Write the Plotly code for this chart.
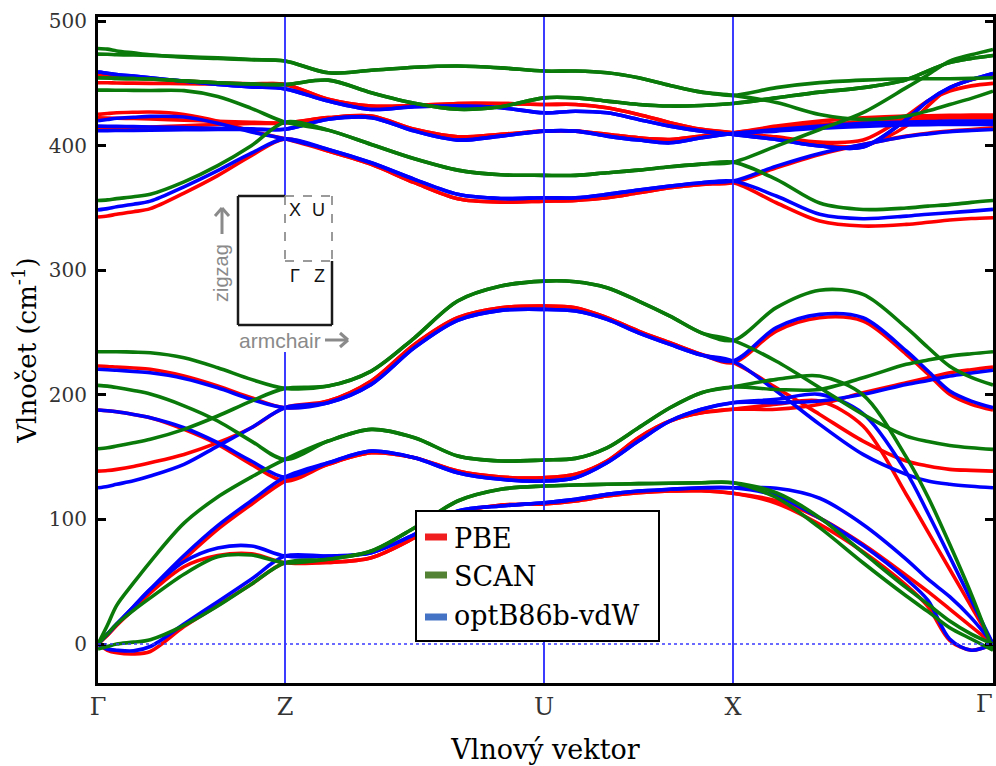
import plotly.graph_objects as go

# ---------------------------------------------------------------------------
# Phonon dispersion of black phosphorene along Γ–Z–U–X–Γ
# ---------------------------------------------------------------------------

# sampled k-points along the path (path-length units)
k_path = [0.000, 0.094, 0.187, 0.355, 0.523, 0.860, 1.197, 1.533, 1.870,
          2.302, 2.733, 3.165, 3.597, 4.028, 4.460,
          4.775, 5.090, 5.405, 5.720, 6.035, 6.350,
          6.783, 7.217, 7.650, 8.083, 8.300, 8.517, 8.733, 8.950]

# high-symmetry points
sym_k = [0.0, 1.87, 4.46, 6.35, 8.95]
sym_labels = ["Γ", "Z", "U", "X", "Γ"]

# frequency ticks (cm^-1)
freq_ticks = [0, 100, 200, 300, 400, 500]

# PBE phonon branches (cm^-1), one list per band
pbe_bands = [
    [223.1, 222.8, 222.3, 221.5, 220.5, 215.1, 207.1, 197.7, 189.7,
     195.0, 211.1, 240.5, 261.9, 269.9, 271.3,
     269.9, 261.9, 251.2, 241.8, 232.5, 225.8,
     251.2, 261.9, 259.2, 232.5, 216.7, 200.4, 192.4, 187.8],
    [138.8, 139.3, 140.2, 142.5, 145.5, 152.2, 161.6, 173.6, 189.7,
     195.0, 211.1, 240.5, 261.9, 269.9, 271.3,
     269.9, 261.9, 251.2, 241.8, 232.5, 225.8,
     205.7, 184.3, 162.9, 146.9, 142.9, 140.2, 139.4, 138.8],
    [0.0, 7.0, 15.0, 28.0, 42.0, 68.0, 92.0, 112.0, 130.8,
     144.2, 153.5, 149.5, 138.8, 134.0, 133.5,
     136.2, 146.9, 165.6, 179.0, 185.6, 188.4,
     188.4, 192.4, 201.7, 209.7, 213.7, 217.7, 220.2, 222.3],
    [187.8, 187.2, 186.4, 184.2, 181.6, 172.3, 160.3, 144.2, 130.8,
     144.2, 153.5, 149.5, 138.8, 134.0, 133.5,
     136.2, 146.9, 165.6, 179.0, 185.6, 188.4,
     192.4, 195.0, 175.0, 120.0, 90.0, 60.0, 30.0, 0.0],
    [0.0, 7.0, 15.0, 28.0, 41.0, 62.0, 71.0, 72.5, 65.2,
     65.5, 69.3, 85.3, 105.4, 111.5, 112.5,
     114.8, 118.8, 121.4, 122.8, 123.0, 121.0,
     115.0, 101.0, 80.0, 55.0, 42.0, 28.0, 14.0, 0.0],
    [0.0, -5.0, -7.0, -8.0, -6.0, 14.0, 31.0, 48.0, 65.2,
     65.5, 69.3, 85.3, 105.4, 111.5, 112.5,
     114.8, 118.8, 121.4, 122.8, 123.0, 121.0,
     113.0, 96.0, 74.0, 47.0, 30.0, 3.0, -5.0, 0.0],
    [457.2, 456.5, 455.9, 454.8, 453.7, 451.8, 450.5, 449.7, 449.2,
     437.2, 431.8, 432.3, 433.9, 433.9, 433.1,
     433.1, 430.5, 425.1, 418.5, 413.1, 410.4,
     406.3, 401.0, 399.7, 415.7, 432.0, 446.5, 453.0, 456.4],
    [450.5, 450.5, 450.3, 450.2, 450.0, 449.8, 449.5, 449.3, 449.2,
     437.2, 431.8, 432.3, 433.9, 433.9, 433.1,
     433.1, 430.5, 425.1, 418.5, 413.1, 410.4,
     407.1, 402.9, 404.5, 423.8, 436.0, 443.8, 448.0, 450.0],
    [422.3, 422.2, 422.0, 421.8, 421.5, 420.5, 419.5, 418.8, 418.3,
     422.5, 423.8, 413.1, 407.2, 409.1, 411.7,
     411.7, 409.1, 406.3, 405.0, 407.7, 410.4,
     415.7, 419.7, 422.3, 423.8, 424.0, 424.3, 424.5, 424.6],
    [414.3, 414.4, 414.5, 414.8, 415.0, 416.0, 417.0, 417.8, 418.3,
     422.5, 423.8, 413.1, 407.2, 409.1, 411.7,
     411.7, 409.1, 406.3, 405.0, 407.7, 410.4,
     414.4, 417.1, 418.9, 421.0, 421.8, 422.3, 422.3, 422.3],
    [425.1, 425.8, 426.4, 426.8, 427.0, 425.1, 419.7, 411.7, 405.5,
     395.7, 385.0, 370.3, 357.4, 354.7, 355.5,
     356.1, 358.2, 362.2, 366.2, 368.9, 370.3,
     382.3, 393.0, 401.0, 407.7, 410.0, 411.7, 413.0, 414.4],
    [342.7, 343.5, 345.0, 347.0, 349.5, 362.0, 376.0, 392.0, 405.5,
     395.7, 385.0, 370.3, 357.4, 354.7, 355.5,
     356.1, 358.2, 362.2, 366.2, 368.9, 370.3,
     354.2, 339.5, 335.5, 336.8, 338.5, 340.3, 341.5, 342.2],
]

# optB86b-vdW phonon branches (cm^-1)
optb_bands = [
    [220.5, 220.1, 219.7, 218.8, 217.7, 213.2, 205.7, 196.4, 189.7,
     193.7, 208.4, 237.9, 259.8, 267.8, 268.6,
     267.3, 260.6, 249.8, 240.5, 231.9, 227.1,
     253.9, 264.6, 261.9, 235.2, 219.1, 203.1, 195.0, 189.7],
    [125.4, 126.5, 128.2, 131.0, 134.8, 144.2, 158.9, 173.6, 189.7,
     193.7, 208.4, 237.9, 259.8, 267.8, 268.6,
     267.3, 260.6, 249.8, 240.5, 231.9, 227.1,
     203.0, 176.3, 152.2, 136.2, 130.8, 128.2, 126.6, 125.4],
    [0.0, 8.0, 16.0, 30.0, 44.0, 71.0, 95.0, 115.0, 134.0,
     145.5, 154.9, 149.5, 137.5, 132.2, 130.8,
     133.5, 145.5, 162.9, 179.0, 188.4, 193.7,
     193.7, 195.0, 200.4, 208.4, 211.6, 215.1, 217.5, 219.7],
    [187.8, 187.2, 186.4, 184.2, 181.6, 173.6, 161.6, 146.9, 134.0,
     145.5, 154.9, 149.5, 137.5, 132.2, 130.8,
     133.5, 145.5, 162.9, 179.0, 188.4, 193.7,
     196.4, 200.4, 185.0, 138.0, 105.0, 70.0, 35.0, 0.0],
    [0.0, 8.0, 16.0, 30.0, 44.0, 66.0, 77.0, 78.7, 70.6,
     70.6, 73.3, 88.0, 106.7, 110.8, 113.4,
     116.1, 120.1, 122.8, 124.2, 125.4, 125.4,
     125.0, 117.0, 96.0, 68.0, 52.0, 38.0, 21.0, 0.0],
    [0.0, -4.0, -5.0, -5.5, -2.0, 16.0, 34.0, 52.0, 70.6,
     70.6, 73.3, 88.0, 106.7, 110.8, 113.4,
     116.1, 120.1, 122.8, 124.2, 125.4, 125.4,
     119.0, 101.0, 79.0, 52.0, 35.0, 4.0, -5.0, 0.0],
    [459.1, 458.2, 457.2, 455.9, 454.5, 451.8, 449.2, 447.2, 445.6,
     435.8, 429.1, 431.3, 431.8, 430.5, 426.4,
     427.7, 426.4, 421.1, 415.7, 411.7, 409.0,
     405.0, 399.7, 398.9, 421.0, 436.0, 446.6, 453.0, 458.0],
    [459.1, 458.2, 457.2, 455.9, 454.5, 451.8, 449.2, 447.2, 445.6,
     435.8, 429.1, 431.3, 431.8, 430.5, 426.4,
     427.7, 426.4, 421.1, 415.7, 411.7, 409.0,
     405.0, 399.7, 398.9, 421.0, 436.0, 446.6, 453.0, 458.0],
    [415.7, 415.6, 415.5, 415.3, 415.0, 414.5, 414.0, 413.5, 413.2,
     421.2, 422.5, 411.7, 404.5, 407.7, 411.7,
     411.7, 407.7, 404.5, 402.3, 406.3, 409.8,
     413.0, 415.7, 417.9, 418.9, 419.3, 419.7, 419.7, 419.7],
    [412.0, 412.1, 412.2, 412.3, 412.5, 412.8, 413.0, 413.1, 413.2,
     421.2, 422.5, 411.7, 404.5, 407.7, 411.7,
     411.7, 407.7, 404.5, 402.3, 406.3, 409.8,
     411.7, 414.0, 415.5, 416.6, 416.9, 417.1, 417.1, 417.1],
    [420.0, 421.0, 422.0, 422.8, 423.5, 423.0, 418.0, 411.0, 405.5,
     397.0, 386.3, 373.0, 361.0, 357.6, 358.2,
     358.2, 360.9, 364.4, 367.6, 370.3, 371.6,
     383.6, 393.8, 401.0, 407.4, 409.5, 411.2, 412.2, 413.0],
    [348.5, 349.5, 351.0, 353.0, 355.5, 367.0, 380.0, 394.0, 405.5,
     397.0, 386.3, 373.0, 361.0, 357.6, 358.2,
     358.2, 360.9, 364.4, 367.6, 370.3, 371.6,
     359.6, 344.9, 341.4, 343.5, 345.0, 346.2, 347.5, 348.9],
]

# SCAN phonon branches (cm^-1)
scan_bands = [
    [234.6, 234.6, 234.6, 234.3, 233.8, 229.8, 221.8, 212.4, 205.2,
     207.1, 219.1, 245.8, 275.3, 287.3, 291.3,
     290.8, 286.0, 275.3, 263.2, 249.8, 243.7,
     270.0, 284.0, 280.7, 253.9, 238.0, 223.0, 214.0, 207.9],
    [156.7, 157.5, 158.9, 161.5, 164.3, 172.3, 183.0, 195.0, 205.2,
     207.1, 219.1, 245.8, 275.3, 287.3, 291.3,
     290.8, 286.0, 275.3, 263.2, 249.8, 243.7,
     227.0, 205.7, 184.3, 166.9, 162.5, 159.4, 157.5, 156.2],
    [0.0, 15.0, 31.0, 49.0, 66.0, 97.0, 118.0, 134.0, 148.2,
     162.9, 172.3, 165.6, 150.9, 146.9, 147.7,
     149.0, 157.5, 173.6, 189.6, 201.7, 206.3,
     204.3, 204.3, 213.7, 224.5, 228.0, 231.1, 233.0, 234.6],
    [207.6, 207.0, 205.9, 203.5, 200.6, 191.2, 179.0, 162.9, 148.2,
     162.9, 172.3, 165.6, 150.9, 146.9, 147.7,
     149.0, 157.5, 173.6, 189.6, 201.7, 206.3,
     212.4, 215.1, 200.0, 150.0, 118.0, 80.0, 40.0, -5.0],
    [0.0, 8.0, 16.0, 27.0, 37.0, 56.0, 70.0, 71.4, 65.2,
     68.0, 74.6, 93.3, 114.8, 124.2, 126.8,
     127.6, 128.2, 128.7, 129.0, 129.5, 129.5,
     121.4, 101.4, 73.3, 45.2, 32.0, 18.5, 8.0, 0.0],
    [-4.0, -2.0, 0.0, 1.5, 3.5, 15.0, 30.5, 48.0, 65.2,
     68.0, 74.6, 93.3, 114.8, 124.2, 126.8,
     127.6, 128.2, 128.7, 129.0, 129.5, 129.5,
     117.6, 93.4, 65.2, 38.5, 26.0, 13.1, 4.0, -5.0],
    [478.0, 477.5, 476.0, 474.5, 473.0, 471.0, 470.0, 469.0, 468.0,
     458.5, 460.5, 463.0, 464.0, 462.5, 459.9,
     459.9, 458.5, 454.5, 448.4, 443.0, 440.4,
     446.6, 450.6, 452.6, 453.7, 453.7, 453.7, 454.0, 454.5],
    [473.5, 473.4, 473.0, 472.8, 472.5, 471.5, 470.5, 469.2, 468.0,
     458.5, 460.5, 463.0, 464.0, 462.5, 459.9,
     459.9, 458.5, 454.5, 448.4, 443.0, 440.4,
     434.6, 425.1, 421.1, 423.8, 428.0, 433.1, 438.0, 443.8],
    [454.5, 454.3, 454.0, 453.8, 453.5, 452.0, 450.5, 449.5, 449.1,
     452.6, 442.5, 434.0, 429.2, 431.3, 438.4,
     438.4, 435.8, 433.1, 431.8, 432.3, 433.9,
     438.4, 443.0, 446.6, 453.0, 460.0, 466.7, 470.0, 472.4],
    [454.5, 454.3, 454.0, 453.8, 453.5, 452.0, 450.5, 449.5, 449.1,
     452.6, 442.5, 434.0, 429.2, 431.3, 438.4,
     438.4, 435.8, 433.1, 431.8, 432.3, 433.9,
     438.4, 443.0, 446.6, 453.0, 460.0, 466.7, 470.0, 472.4],
    [444.6, 444.6, 444.5, 444.4, 444.3, 444.2, 439.5, 430.0, 418.9,
     412.5, 401.0, 389.5, 380.4, 376.7, 376.2,
     376.2, 378.3, 380.4, 383.1, 385.2, 386.8,
     399.7, 413.0, 426.5, 446.6, 457.0, 467.9, 473.0, 477.3],
    [356.0, 356.5, 357.5, 359.0, 361.0, 371.0, 384.0, 400.0, 418.9,
     412.5, 401.0, 389.5, 380.4, 376.7, 376.2,
     376.2, 378.3, 380.4, 383.1, 385.2, 386.8,
     373.0, 354.0, 348.8, 350.0, 351.5, 352.7, 354.5, 356.0],
]

# ---------------------------------------------------------------------------
# figure geometry
W, H = 996, 766
L, R, T, B = 98, 3, 17, 83
PW, PH = W - L - R, H - T - B


def fx(x):
    """pixel column -> paper x"""
    return (x - L) / PW


def fy(y):
    """pixel row -> paper y"""
    return (H - B - y) / PH


SERIF = "DejaVu Serif"
SANS = "Liberation Sans"
GREY = "#8a8a8a"

series = [
    ("PBE", pbe_bands, "#ff0000"),
    ("optB86b-vdW", optb_bands, "#0000ff"),
    ("SCAN", scan_bands, "#0a7a0a"),
]

fig = go.Figure()
for name, bands, color in series:
    for band in bands:
        fig.add_trace(go.Scatter(
            x=k_path, y=band, mode="lines", name=name,
            line=dict(color=color, width=3.6, shape="spline", smoothing=0.9),
            showlegend=False, hoverinfo="skip"))


def seg(p, q, color, width, dash=None):
    ln = dict(color=color, width=width)
    if dash:
        ln["dash"] = dash
    return dict(type="line", xref="paper", yref="paper",
                x0=fx(p[0]), y0=fy(p[1]), x1=fx(q[0]), y1=fy(q[1]),
                line=ln, layer="above")


shapes = []
# high-symmetry verticals
for k in sym_k[1:-1]:
    shapes.append(dict(type="line", xref="x", yref="paper", x0=k, x1=k, y0=0, y1=1,
                       line=dict(color="#2626ff", width=1.8), layer="above"))
# zero-frequency guide
shapes.append(dict(type="line", xref="paper", yref="y", x0=0, x1=1, y0=0, y1=0,
                   line=dict(color="#3a3aff", width=1.5, dash="dot"), layer="above"))

# Brillouin-zone inset
shapes.append(dict(type="rect", xref="paper", yref="paper",
                   x0=fx(212), x1=fx(352), y0=fy(352), y1=fy(195),
                   fillcolor="white", line=dict(width=0), layer="above"))
for p, q in [((285, 196), (238, 196)), ((238, 196), (238, 325)),
             ((238, 325), (332, 325)), ((332, 325), (332, 261))]:
    shapes.append(seg(p, q, "#1a1a1a", 2.5))
for p, q in [((285, 196), (332, 196)), ((332, 196), (332, 261)),
             ((285, 196), (285, 261)), ((285, 261), (332, 261))]:
    shapes.append(seg(p, q, "#7a7a7a", 1.5, "dash"))
# direction arrows
for p, q in [((325, 340), (348, 340)), ((348, 340), (340, 333)), ((348, 340), (340, 347)),
             ((222, 234), (222, 208)), ((222, 208), (215, 216)), ((222, 208), (229, 216))]:
    shapes.append(seg(p, q, GREY, 3))

# legend box
shapes.append(dict(type="rect", xref="paper", yref="paper",
                   x0=fx(416), x1=fx(659), y0=fy(641), y1=fy(511),
                   fillcolor="white", line=dict(color="black", width=2), layer="above"))
legend_items = [("PBE", "#f01e1e", 537, 538),
                ("SCAN", "#548235", 575, 576),
                ("optB86b-vdW", "#4472c4", 617, 615)]
annotations = []
for label, col, ys, yt in legend_items:
    shapes.append(seg((425, ys), (447, ys), col, 7))
    annotations.append(dict(x=fx(452), y=fy(yt), xref="paper", yref="paper",
                            text=label, showarrow=False, xanchor="left", yanchor="middle",
                            font=dict(family=SERIF, size=27, color="black")))

# inset labels
for txt, xx, yy in [("X", 295, 210), ("U", 318, 210), ("Γ", 295, 276), ("Z", 319, 276)]:
    annotations.append(dict(x=fx(xx), y=fy(yy), xref="paper", yref="paper", text=txt,
                            showarrow=False, xanchor="center", yanchor="middle",
                            font=dict(family=SANS, size=18, color="#111111")))
annotations.append(dict(x=fx(221), y=fy(273), xref="paper", yref="paper", text="zigzag",
                        textangle=-90, showarrow=False, xanchor="center", yanchor="middle",
                        font=dict(family=SANS, size=20, color=GREY)))
annotations.append(dict(x=fx(323), y=fy(340), xref="paper", yref="paper", text="armchair",
                        showarrow=False, xanchor="right", yanchor="middle",
                        font=dict(family=SANS, size=21, color=GREY)))

# closing Γ label, kept inside the page at the right border
annotations.append(dict(x=fx(995), y=fy(704), xref="paper", yref="paper", text=sym_labels[-1],
                        showarrow=False, xanchor="right", yanchor="middle",
                        font=dict(family=SERIF, size=24, color="#333333")))

fig.update_layout(
    width=W, height=H,
    margin=dict(l=L, r=R, t=T, b=B),
    paper_bgcolor="white", plot_bgcolor="white",
    showlegend=False,
    shapes=shapes, annotations=annotations,
    xaxis=dict(range=[sym_k[0], sym_k[-1]], tickvals=sym_k[:-1], ticktext=sym_labels[:-1],
               showgrid=False, zeroline=False, showline=True, mirror=True,
               linecolor="black", linewidth=3, ticks="",
               tickfont=dict(family=SERIF, size=24, color="#333333"),
               title=dict(text="Vlnový vektor", standoff=21,
                          font=dict(family=SERIF, size=27, color="black")),
               automargin=False),
    yaxis=dict(range=[-31.3, 503.3], tickvals=freq_ticks,
               showgrid=False, zeroline=False, showline=True, mirror="ticks",
               linecolor="black", linewidth=3, ticks="inside", ticklen=8,
               tickwidth=2.5, tickcolor="black", ticklabelstandoff=4,
               tickfont=dict(family=SERIF, size=20, color="#333333"),
               title=dict(text="Vlnočet (cm<sup>-1</sup>)", standoff=5,
                          font=dict(family=SERIF, size=26, color="black")),
               automargin=False),
)

fig.write_html("out.html")
